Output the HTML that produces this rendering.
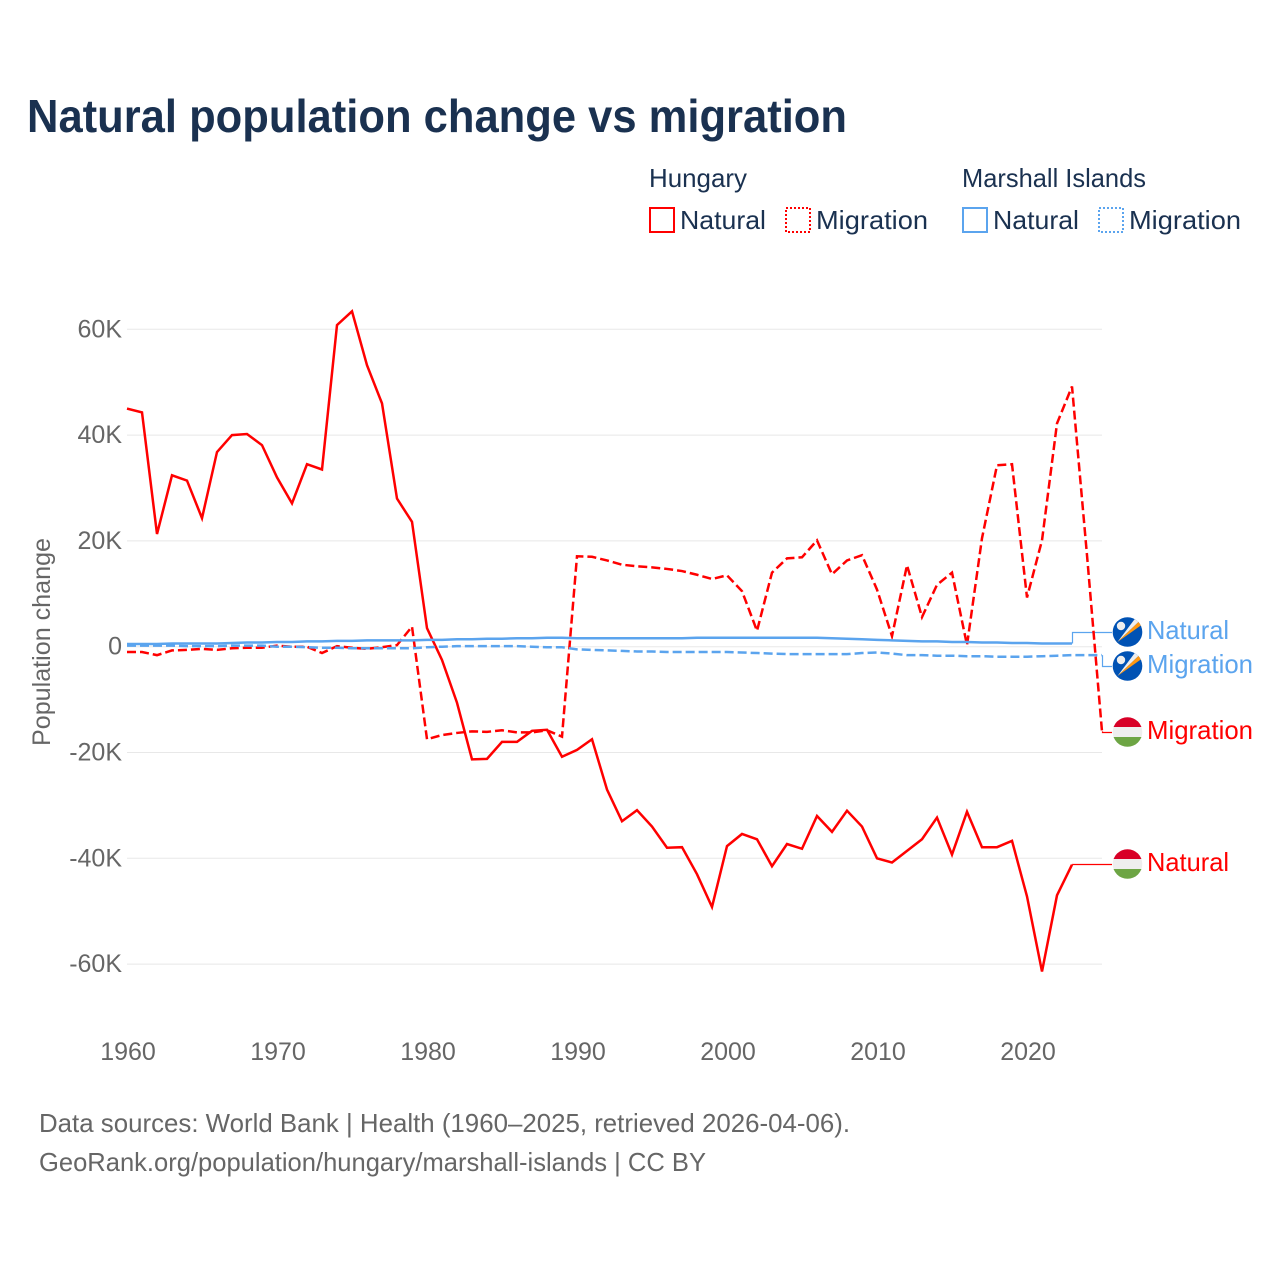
<!DOCTYPE html>
<html lang="en">
<head>
<meta charset="utf-8">
<title>Natural population change vs migration</title>
<style>
html,body{margin:0;padding:0;background:#fff;width:1280px;height:1280px;overflow:hidden}
svg{display:block}
text{font-family:"Liberation Sans",sans-serif}
</style>
</head>
<body>
<svg id="chart" xmlns="http://www.w3.org/2000/svg" width="1280" height="1280" viewBox="0 0 1280 1280">
  <defs>
    <clipPath id="flag-clip"><circle cx="0" cy="0" r="14.8"/></clipPath>
    <g id="flag-hu">
      <g clip-path="url(#flag-clip)">
        <rect x="-15" y="-15" width="30" height="10" fill="#d80027"/>
        <rect x="-15" y="-5" width="30" height="10" fill="#eeeeee"/>
        <rect x="-15" y="5" width="30" height="10" fill="#6da544"/>
      </g>
    </g>
    <g id="flag-mh">
      <g clip-path="url(#flag-clip)">
        <rect x="-15" y="-15" width="30" height="30" fill="#0052b4"/>
        <polygon points="-10,10 8,-14 12,-11" fill="#eeeeee"/>
        <polygon points="-10,10 12,-11 14,-7" fill="#ff9811"/>
        <circle cx="-6.5" cy="-6" r="4.2" fill="#eeeeee"/>
      </g>
    </g>
  </defs>
  <text x="27" y="132" font-size="46" font-weight="700" fill="#1a3150" textLength="820" lengthAdjust="spacingAndGlyphs">Natural population change vs migration</text>

  <g fill="#1a3150" font-size="26">
    <text x="649" y="187" textLength="98" lengthAdjust="spacingAndGlyphs">Hungary</text>
    <text x="962" y="187" textLength="184" lengthAdjust="spacingAndGlyphs">Marshall Islands</text>
    <rect x="650" y="208" width="24" height="24" fill="none" stroke="#ff0000" stroke-width="2"/>
    <text x="680" y="229" textLength="86" lengthAdjust="spacingAndGlyphs">Natural</text>
    <rect x="786" y="208" width="24" height="24" fill="none" stroke="#ff0000" stroke-width="2" stroke-dasharray="2 2"/>
    <text x="816" y="229" textLength="112" lengthAdjust="spacingAndGlyphs">Migration</text>
    <rect x="963" y="208" width="24" height="24" fill="none" stroke="#5ba4ee" stroke-width="2"/>
    <text x="993" y="229" textLength="86" lengthAdjust="spacingAndGlyphs">Natural</text>
    <rect x="1099" y="208" width="24" height="24" fill="none" stroke="#5ba4ee" stroke-width="2" stroke-dasharray="2 2"/>
    <text x="1129" y="229" textLength="112" lengthAdjust="spacingAndGlyphs">Migration</text>
  </g>

  <g id="grid"></g>
  <g id="y-ticks"></g>
  <g id="x-ticks"></g>
  <text transform="translate(50,746) rotate(-90)" x="0" y="0" font-size="25" fill="#666666" textLength="208" lengthAdjust="spacingAndGlyphs">Population change</text>
  <g id="series"></g>

  <use href="#flag-mh" x="1127.5" y="632"/>
  <use href="#flag-mh" x="1127.5" y="666"/>
  <use href="#flag-hu" x="1127.5" y="732"/>
  <use href="#flag-hu" x="1127.5" y="864"/>

  <text x="1147" y="639" font-size="26" fill="#5ba4ee" textLength="82" lengthAdjust="spacingAndGlyphs">Natural</text>
  <text x="1147" y="673" font-size="26" fill="#5ba4ee" textLength="106" lengthAdjust="spacingAndGlyphs">Migration</text>
  <text x="1147" y="739" font-size="26" fill="#ff0000" textLength="106" lengthAdjust="spacingAndGlyphs">Migration</text>
  <text x="1147" y="871" font-size="26" fill="#ff0000" textLength="82" lengthAdjust="spacingAndGlyphs">Natural</text>

  <text x="39" y="1132" font-size="26" fill="#666666" textLength="811" lengthAdjust="spacingAndGlyphs">Data sources: World Bank | Health (1960–2025, retrieved 2026-04-06).</text>
  <text x="39" y="1171" font-size="26" fill="#666666" textLength="667" lengthAdjust="spacingAndGlyphs">GeoRank.org/population/hungary/marshall-islands | CC BY</text>
</svg>
<script>
const startYear = 1960;
const yTickValues = [60, 40, 20, 0, -20, -40, -60];
const yTickLabels = ["60K", "40K", "20K", "0", "-20K", "-40K", "-60K"];
const xTickYears = [1960, 1970, 1980, 1990, 2000, 2010, 2020];

// Values in thousands, one per year from 1960.
const hungaryNatural = [45.0,44.3,21.3,32.4,31.4,24.3,36.8,40.0,40.2,38.1,32.0,27.1,34.5,33.5,60.8,63.4,53.2,46.0,28.0,23.6,3.5,-2.5,-10.6,-21.3,-21.2,-18.0,-18.0,-15.9,-15.7,-20.8,-19.5,-17.5,-27.0,-33.0,-30.9,-34.0,-38.0,-37.9,-43.0,-49.2,-37.7,-35.4,-36.4,-41.5,-37.3,-38.2,-32.0,-35.0,-31.0,-34.0,-40.0,-40.8,-38.6,-36.4,-32.3,-39.3,-31.2,-37.9,-37.9,-36.7,-47.2,-61.4,-47.0,-41.2];
const hungaryMigration = [-1.0,-1.0,-1.6,-0.7,-0.6,-0.4,-0.6,-0.3,-0.2,-0.2,0.2,0.0,0.0,-1.2,0.1,-0.2,-0.4,-0.1,0.3,3.8,-17.5,-16.7,-16.3,-16.0,-16.1,-15.8,-16.2,-16.2,-15.8,-17.0,17.1,17.0,16.3,15.5,15.2,15.0,14.7,14.3,13.6,12.8,13.5,10.5,3.0,14.0,16.7,16.9,20.1,13.7,16.3,17.3,10.8,2.0,15.4,5.6,11.7,14.0,0.3,20.5,34.3,34.5,9.3,20.1,42.2,49.2,17.3,-16.0];
const marshallNatural = [0.5,0.5,0.5,0.6,0.6,0.6,0.6,0.7,0.8,0.8,0.9,0.9,1.0,1.0,1.1,1.1,1.2,1.2,1.2,1.2,1.3,1.3,1.4,1.4,1.5,1.5,1.6,1.6,1.7,1.7,1.6,1.6,1.6,1.6,1.6,1.6,1.6,1.6,1.7,1.7,1.7,1.7,1.7,1.7,1.7,1.7,1.7,1.6,1.5,1.4,1.3,1.2,1.1,1.0,1.0,0.9,0.9,0.8,0.8,0.7,0.7,0.6,0.6,0.6];
const marshallMigration = [0.2,0.2,0.2,0.2,0.1,0.1,0.1,0.2,0.2,0.2,0.0,0.0,-0.1,-0.2,-0.2,-0.3,-0.3,-0.3,-0.3,-0.3,-0.1,0.0,0.1,0.1,0.1,0.1,0.1,0.0,-0.1,-0.1,-0.5,-0.6,-0.7,-0.8,-0.9,-0.9,-1.0,-1.0,-1.0,-1.0,-1.0,-1.1,-1.2,-1.3,-1.4,-1.4,-1.4,-1.4,-1.4,-1.2,-1.1,-1.3,-1.6,-1.6,-1.7,-1.7,-1.8,-1.8,-1.9,-1.9,-1.9,-1.8,-1.7,-1.6,-1.6,-1.6];

const NS = "http://www.w3.org/2000/svg";
const xAxis = function (year) { return 127 + (year - startYear) * 15; };
const yAxis = function (value) { return 646.7 - value * 5.29; };

const make = function (tag, attrs, parent) {
  const el = document.createElementNS(NS, tag);
  Object.keys(attrs).forEach(function (k) { el.setAttribute(k, attrs[k]); });
  parent.appendChild(el);
  return el;
};

const grid = document.getElementById("grid");
const yTicks = document.getElementById("y-ticks");
const xTicks = document.getElementById("x-ticks");
const seriesGroup = document.getElementById("series");

yTickValues.forEach(function (v, i) {
  const line = make("line", {x1: 127, x2: 1102, y1: yAxis(v), y2: yAxis(v), stroke: "#e8e8e8", "stroke-width": 1}, grid);
  
  
  const label = make("text", {x: 122, y: yAxis(v) + 8, "text-anchor": "end", "font-size": 25, fill: "#666666"}, yTicks);
  label.textContent = yTickLabels[i];
  
  
});

xTickYears.forEach(function (year) {
  const label = make("text", {x: xAxis(year) + 1, y: 1060, "text-anchor": "middle", "font-size": 25, fill: "#666666"}, xTicks);
  label.textContent = String(year);
  
  
});

const linePath = function (values) {
  return values.map(function (v, i) {
    return (i ? "L" : "M") + xAxis(startYear + i) + " " + yAxis(v).toFixed(2);
  }).join(" ");
};

const drawSeries = function (values, color, dashed) {
  const attrs = {d: linePath(values), fill: "none", stroke: color, "stroke-width": 2.5, "stroke-linejoin": "miter"};
  if (dashed) attrs["stroke-dasharray"] = "9 4";
  return make("path", attrs, seriesGroup);
};

const drawLeader = function (values, color, labelY) {
  const endX = xAxis(startYear + values.length - 1) + 0.5;
  const endY = yAxis(values[values.length - 1]);
  return make("path", {d: "M" + endX + " " + endY.toFixed(2) + " L" + endX + " " + labelY + " L1112 " + labelY, fill: "none", stroke: color, "stroke-width": 1.2}, seriesGroup);
};

const leaderMN = drawLeader(marshallNatural, "#5ba4ee", 632.5);


const leaderMM = drawLeader(marshallMigration, "#5ba4ee", 666.5);


const leaderHM = drawLeader(hungaryMigration, "#ff0000", 732.5);


const leaderHN = drawLeader(hungaryNatural, "#ff0000", 864.5);



const lineHM = drawSeries(hungaryMigration, "#ff0000", true);


const lineHN = drawSeries(hungaryNatural, "#ff0000", false);


const lineMM = drawSeries(marshallMigration, "#5ba4ee", true);


const lineMN = drawSeries(marshallNatural, "#5ba4ee", false);


</script>
</body>
</html>
